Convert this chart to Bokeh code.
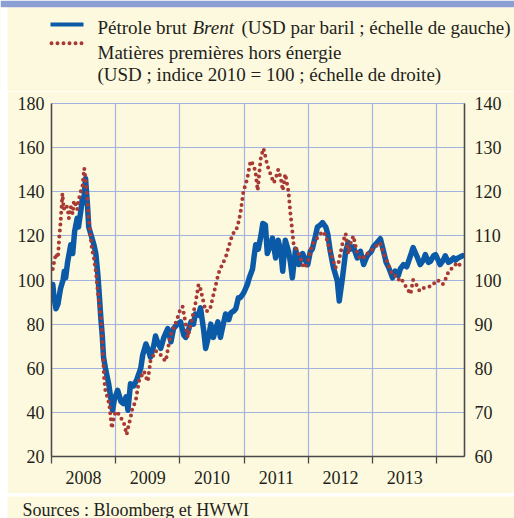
from bokeh.plotting import figure
from bokeh.layouts import column, row
from bokeh.models import Range1d, LinearAxis, FixedTicker, Label, Spacer
from bokeh.embed import file_html
from bokeh.resources import INLINE

# ---------------- data ----------------
brent_t = [2008.02, 2008.04, 2008.07, 2008.10, 2008.14, 2008.18, 2008.20, 2008.22, 2008.25, 2008.30,
           2008.33, 2008.36, 2008.40, 2008.42, 2008.46, 2008.48, 2008.50, 2008.53, 2008.56, 2008.58,
           2008.61, 2008.64, 2008.66, 2008.69, 2008.72, 2008.74, 2008.77, 2008.79, 2008.81, 2008.84,
           2008.89, 2008.92, 2008.95, 2008.98, 2009.03, 2009.08, 2009.12, 2009.16, 2009.19, 2009.23,
           2009.28, 2009.33, 2009.39, 2009.42, 2009.47, 2009.51, 2009.54, 2009.59, 2009.62, 2009.65,
           2009.70, 2009.75, 2009.81, 2009.86, 2009.90, 2009.96, 2010.01, 2010.06, 2010.09, 2010.14,
           2010.17, 2010.21, 2010.24, 2010.29, 2010.32, 2010.37, 2010.40, 2010.45, 2010.48, 2010.52,
           2010.59, 2010.63, 2010.66, 2010.71, 2010.76, 2010.79, 2010.84, 2010.87, 2010.91, 2010.94,
           2010.99, 2011.05, 2011.08, 2011.13, 2011.16, 2011.18, 2011.22, 2011.26, 2011.29, 2011.33,
           2011.36, 2011.41, 2011.44, 2011.49, 2011.53, 2011.57, 2011.60, 2011.64, 2011.69, 2011.72,
           2011.75, 2011.80, 2011.85, 2011.91, 2011.95, 2011.99, 2012.03, 2012.06, 2012.11, 2012.14,
           2012.19, 2012.22, 2012.27, 2012.30, 2012.34, 2012.39, 2012.45, 2012.48, 2012.53, 2012.58,
           2012.62, 2012.65, 2012.70, 2012.76, 2012.81, 2012.86, 2012.90, 2012.93, 2012.98, 2013.01,
           2013.07, 2013.12, 2013.17, 2013.21, 2013.25, 2013.31, 2013.35, 2013.40, 2013.43, 2013.48,
           2013.53, 2013.56, 2013.60, 2013.63, 2013.67, 2013.70, 2013.74, 2013.79, 2013.82, 2013.87,
           2013.90, 2013.95, 2013.98, 2014.02, 2014.05, 2014.10, 2014.13, 2014.18, 2014.21, 2014.26,
           2014.29, 2014.33, 2014.40]
brent_usd = [98, 92, 87, 89, 96, 100, 104, 101, 108, 116,
             112, 122, 128, 124, 132, 137, 135, 146, 134, 124,
             121, 118, 116, 112, 103, 95, 82, 75, 65, 60,
             53, 47, 41, 46, 50, 45, 44, 47, 41, 53,
             52, 55, 60, 66, 71, 68, 65, 70, 74.6, 72,
             69, 74, 78, 72, 78, 80, 81, 75, 74, 78,
             81, 80, 84.6, 84, 87.4, 77, 69, 75, 80, 74,
             81, 74, 78, 84.6, 82, 85, 86, 87, 92, 92,
             94, 98, 101, 105, 112, 116, 114, 120, 125.6, 125,
             112, 116, 119, 110, 118, 113, 104, 118, 113, 108,
             101, 114, 107, 112, 109, 107, 113, 114, 120, 124,
             125, 126, 124, 121, 113, 105.6, 99.6, 90.5, 101, 113,
             117, 114, 115, 110, 113, 107, 110, 111.5, 113, 115,
             117, 118.7, 113, 108, 105.6, 101, 104, 102, 105, 107,
             106, 108.5, 112, 114.7, 112, 110, 107, 109, 111.5, 108,
             108.5, 111, 111.5, 109, 107, 109, 111, 108, 108.5, 110,
             109, 110, 111]

commod_t = [2008.02, 2008.04, 2008.07, 2008.10, 2008.12, 2008.14, 2008.17, 2008.19, 2008.22, 2008.25,
            2008.27, 2008.30, 2008.33, 2008.35, 2008.38, 2008.40, 2008.42, 2008.46, 2008.48, 2008.51,
            2008.53, 2008.56, 2008.58, 2008.61, 2008.63, 2008.66, 2008.69, 2008.72, 2008.74, 2008.77,
            2008.79, 2008.82, 2008.84, 2008.87, 2008.90, 2008.92, 2008.94, 2008.97, 2009.00, 2009.03,
            2009.08, 2009.12, 2009.17, 2009.20, 2009.23, 2009.26, 2009.31, 2009.36, 2009.39, 2009.44,
            2009.47, 2009.50, 2009.54, 2009.59, 2009.62, 2009.67, 2009.70, 2009.75, 2009.78, 2009.82,
            2009.86, 2009.90, 2009.96, 2010.01, 2010.04, 2010.09, 2010.12, 2010.17, 2010.20, 2010.24,
            2010.29, 2010.32, 2010.35, 2010.40, 2010.45, 2010.48, 2010.51, 2010.56, 2010.60, 2010.63,
            2010.66, 2010.71, 2010.74, 2010.79, 2010.82, 2010.87, 2010.91, 2010.94, 2010.99, 2011.02,
            2011.05, 2011.10, 2011.15, 2011.18, 2011.21, 2011.24, 2011.26, 2011.30, 2011.33, 2011.36,
            2011.41, 2011.46, 2011.49, 2011.53, 2011.57, 2011.60, 2011.64, 2011.69, 2011.72, 2011.75,
            2011.77, 2011.83, 2011.88, 2011.92, 2011.95, 2011.99, 2012.03, 2012.06, 2012.11, 2012.14,
            2012.19, 2012.23, 2012.27, 2012.31, 2012.37, 2012.42, 2012.47, 2012.53, 2012.58, 2012.62,
            2012.65, 2012.70, 2012.76, 2012.81, 2012.86, 2012.89, 2012.93, 2012.97, 2013.04, 2013.12,
            2013.17, 2013.23, 2013.28, 2013.32, 2013.35, 2013.40, 2013.43, 2013.48, 2013.51, 2013.54,
            2013.59, 2013.63, 2013.70, 2013.73, 2013.77, 2013.82, 2013.85, 2013.90, 2013.93, 2013.98,
            2014.01, 2014.05, 2014.09, 2014.13, 2014.16, 2014.21, 2014.24, 2014.29, 2014.32, 2014.35,
            2014.40]
commod_idx = [102.5, 104, 106, 105, 109.6, 112.8, 119.6, 116, 117, 116.4,
              114, 116.6, 115, 118, 117, 116, 118, 120.3, 121, 125.3,
              123, 118, 114, 109.6, 107, 105, 102, 97.5, 95, 91.4,
              86, 77.7, 74.8, 73.5, 71.8, 69, 66.4, 69, 70.2, 70,
              68.7, 68, 65, 67, 68.7, 71, 72.5, 77, 78, 79.3,
              78, 77, 81.6, 83, 83.9, 83.5, 83, 82, 81.6, 85,
              87.7, 89, 91.4, 93.5, 94, 90, 87, 90, 92, 94.6,
              99, 98, 96, 93, 93, 94, 96, 99, 101.5, 102.5,
              103.6, 105, 106.6, 109, 110.5, 111, 113, 115, 120.3, 121.5,
              123.2, 127, 126, 124, 120.3, 125, 127.8, 129.8, 128, 126,
              124, 122, 123, 125, 123, 120.3, 124, 120, 115, 111,
              108, 106.6, 105, 102.8, 103, 104, 106.6, 108, 109, 109.6,
              110.5, 111, 110, 108, 105, 102.8, 104, 108.2, 110.5, 106,
              108, 110, 106, 104.8, 105, 106, 106, 106.6, 107.5, 108.4,
              106, 104, 102, 101, 101, 100, 100.5, 99.5, 98.7, 98,
              96.8, 100, 98.5, 97.5, 98, 98.3, 98.5, 98.5, 99, 99.5,
              100, 99.5, 99, 100, 101.4, 102, 103, 103.5, 104, 103.5,
              103]

years = [2008, 2009, 2010, 2011, 2012, 2013]
year_labels = ["2008", "2009", "2010", "2011", "2012", "2013"]
year_bounds = [2008, 2009, 2010, 2011, 2012, 2013, 2014]
left_ticks = [20, 40, 60, 80, 100, 120, 140, 160, 180]
right_ticks = [60, 70, 80, 90, 100, 110, 120, 130, 140]

legend_brent = ["Pétrole brut", "Brent", "(USD par baril ; échelle de gauche)"]
legend_commod = ["Matières premières hors énergie", "(USD ; indice 2010 = 100 ; échelle de droite)"]
source_text = "Sources : Bloomberg et HWWI"

# ---------------- styling / layout ----------------
CREAM = "#fdf9de"
BAR = "#8c9fd2"
GRID = "#a4b2e2"
BLUE = "#0b5aa8"
RED = "#a83a36"
INK = "#231f20"
AXIS = "#4a4a4a"
FONT = "Liberation Serif"

X0, X1 = 2008.0, 2014.43
Y0, Y1 = 20, 180
R0, R1 = 60, 140

PW = 507          # width of the cream panel (page x 7..514)


def blank(width, height, fill, xr, yr, top=0, border="white"):
    f = figure(width=width, height=height, output_backend="svg", toolbar_location=None,
               x_range=Range1d(*xr), y_range=Range1d(*yr), x_axis_type=None, y_axis_type=None,
               min_border_left=0, min_border_right=0, min_border_top=top, min_border_bottom=0,
               background_fill_color=fill, border_fill_color=border, outline_line_color=None,
               frame_align=False)
    f.grid.visible = False
    return f


# header panel: 7px blue band (border) + legend; coordinates are page pixels, y downward
leg = blank(514, 91, CREAM, (0, 514), (91, 7), top=7, border=BAR)
leg.quad(left=[0], right=[7], top=[7], bottom=[91], fill_color="white", line_color=None)
leg.line([50, 83], [24, 24], line_color=BLUE, line_width=4)
leg.line([51, 83], [42.7, 42.7], line_color=RED, line_width=4, line_dash="0 6", line_cap="round")
LFS = "19px"
seg_x = [97, 192, 241]
styles = ["normal", "italic", "normal"]
for txt, sx, st in zip(legend_brent, seg_x, styles):
    leg.add_layout(Label(x=sx, y=27.3, text=txt, text_font=FONT, text_font_size=LFS,
                         text_font_style=st, text_color=INK, text_baseline="alphabetic",
                         text_align="left"))
for txt, by in zip(legend_commod, [51.7, 74]):
    leg.add_layout(Label(x=97, y=by, text=txt, text_font=FONT, text_font_size=LFS,
                         text_color=INK, text_baseline="alphabetic", text_align="left"))

# main chart: frame at page x 51..464, y 103..456
p = figure(width=PW, height=402, output_backend="svg", toolbar_location=None,
           x_range=Range1d(X0, X1), y_range=Range1d(Y0, Y1),
           min_border_left=44, min_border_right=PW - 457,
           min_border_top=12, min_border_bottom=37,
           background_fill_color=CREAM, border_fill_color=CREAM,
           outline_line_color=GRID, outline_line_width=1.2, frame_align=False)
p.extra_y_ranges = {"right": Range1d(R0, R1)}

p.xaxis.ticker = FixedTicker(ticks=[y + 0.5 for y in years], minor_ticks=year_bounds)
p.xaxis.major_label_overrides = {y + 0.5: lab for y, lab in zip(years, year_labels)}
p.xaxis.major_tick_line_color = None
p.xaxis.major_tick_out = 0
p.xaxis.minor_tick_line_color = AXIS
p.xaxis.minor_tick_line_width = 1.3
p.xaxis.minor_tick_out = 7
p.xaxis.minor_tick_in = 0
p.xaxis.axis_line_color = AXIS
p.xaxis.axis_line_width = 1.5
p.xaxis.major_label_standoff = 7
p.xaxis.major_label_text_font = FONT
p.xaxis.major_label_text_font_size = "18px"
p.xaxis.major_label_text_color = INK

p.yaxis.ticker = FixedTicker(ticks=left_ticks)
p.yaxis.major_tick_line_color = None
p.yaxis.minor_tick_line_color = None
p.yaxis.major_tick_out = 0
p.yaxis.axis_line_color = AXIS
p.yaxis.axis_line_width = 1.5
p.yaxis.major_label_standoff = 7
p.yaxis.major_label_text_font = FONT
p.yaxis.major_label_text_font_size = "18px"
p.yaxis.major_label_text_color = INK

ra = LinearAxis(y_range_name="right", ticker=FixedTicker(ticks=right_ticks),
                major_tick_line_color=None, minor_tick_line_color=None, major_tick_out=0,
                axis_line_color=AXIS, axis_line_width=1.5, major_label_standoff=10,
                major_label_text_font=FONT, major_label_text_font_size="18px",
                major_label_text_color=INK)
p.add_layout(ra, "right")

p.xgrid.ticker = FixedTicker(ticks=year_bounds[1:])
p.xgrid.grid_line_color = GRID
p.xgrid.grid_line_width = 1.2
p.ygrid.grid_line_color = GRID
p.ygrid.grid_line_width = 1.2

p.line(brent_t, brent_usd, line_color=BLUE, line_width=5.5, line_join="round", line_cap="round")
p.line(commod_t, commod_idx, y_range_name="right", line_color=RED, line_width=4,
       line_dash="0 6", line_cap="round", line_join="round")

# sources band: 3px white gap then cream (page y 493..518)
src = blank(PW, 25, CREAM, (0, PW), (22, 0), top=3)
src.add_layout(Label(x=15, y=13, text=source_text, text_font=FONT, text_font_size="18px",
                     text_color=INK, text_baseline="alphabetic", text_align="left"))

layout = column(leg, row(Spacer(width=7, height=427), column(p, src)))
open("out.html", "w").write(file_html(layout, INLINE))
